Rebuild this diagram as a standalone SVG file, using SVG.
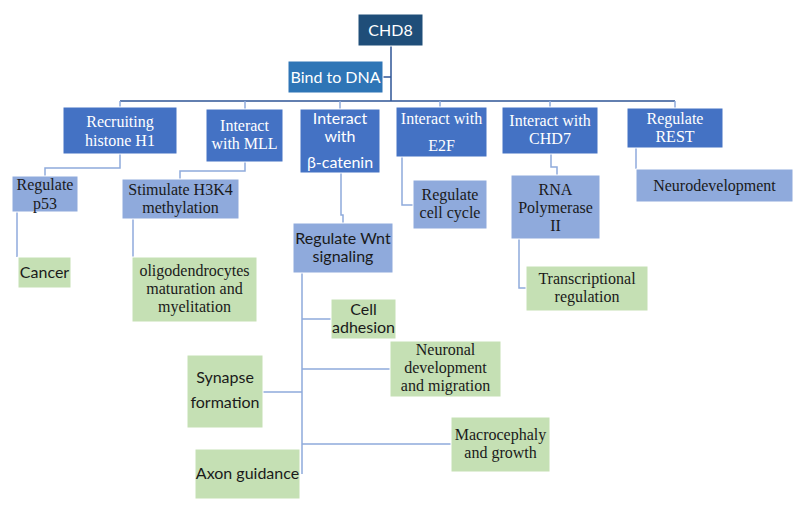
<svg xmlns="http://www.w3.org/2000/svg" width="800" height="507" viewBox="0 0 800 507">
<style>
rect{stroke:#ffffff;stroke-width:1}
.root{fill:#1f4e79}
.dna{fill:#2e75b6}
.l2{fill:#4472c4}
.lb{fill:#8faadc}
.gr{fill:#c5e0b4}
text{text-anchor:middle;font-size:16px}
.t{font-size:16px}
.w{fill:#ffffff}
.k{fill:#1a1a1a}
.c{fill:none;stroke:#8faadc;stroke-width:1.5}
.cd{fill:none;stroke:#2f5597;stroke-width:1.5}
</style>
<rect width="800" height="507" fill="#ffffff" stroke="none"/>
<g id="connectors">
<path class="cd" d="M391 46V101M120 101H675M383 77H391"/>
<path class="c" d="M120 101V107M245 101V109M340 101V109M440 101V107M550 101V107M675 101V108"/>
<path class="c" d="M120 154V168H45V176"/>
<path class="c" d="M245 162V171H180V179"/>
<path class="c" d="M17 212V257"/>
<path class="c" d="M133 219V257"/>
<path class="c" d="M341 173V215H343V223"/>
<path class="c" d="M302 273V474M302 319H331M302 369H390M263 392H302M302 444H451"/>
<path class="c" d="M402 157V205H413"/>
<path class="c" d="M551 154V167H557V175"/>
<path class="c" d="M519 239V288H526"/>
<path class="c" d="M636 148V169"/>
</g>
<g id="sans-nodes" font-family="Lato, 'Open Sans', 'Liberation Sans', sans-serif">
<g id="chd8"><rect class="root" x="358" y="14" width="65" height="32"/><text class="w" x="390.5" y="36">CHD8</text></g>
<g id="bind-dna"><rect class="dna" x="288" y="61" width="95" height="32"/><text class="w" x="335.5" y="83">Bind to DNA</text></g>
<g id="interact-bcatenin"><rect class="l2" x="300" y="109" width="80" height="64"/><text class="w" x="340" y="124">Interact</text><text class="w" x="340" y="142">with</text><text class="w" x="340" y="168">β-catenin</text></g>
<g id="regulate-wnt"><rect class="lb" x="293" y="223" width="100" height="50"/><text class="k" x="343" y="244">Regulate Wnt</text><text class="k" x="343" y="262">signaling</text></g>
<g id="cancer"><rect class="gr" x="18" y="257" width="53" height="31"/><text class="k" x="44.5" y="278">Cancer</text></g>
<g id="cell-adhesion"><rect class="gr" x="331" y="299" width="65" height="40"/><text class="k" x="363.5" y="315">Cell</text><text class="k" x="363.5" y="333">adhesion</text></g>
<g id="synapse"><rect class="gr" x="187" y="355" width="76" height="73"/><text class="k" x="225" y="383">Synapse</text><text class="k" x="225" y="408">formation</text></g>
<g id="axon"><rect class="gr" x="195" y="449" width="105" height="50"/><text class="k" x="247.5" y="479">Axon guidance</text></g>
</g>
<g id="serif-nodes" font-family="'Liberation Serif', 'Times New Roman', Tinos, serif">
<g id="recruiting-h1"><rect class="l2" x="63" y="107" width="114" height="47"/><text class="t w" x="120" y="127">Recruiting</text><text class="t w" x="120" y="146">histone H1</text></g>
<g id="interact-mll"><rect class="l2" x="206" y="109" width="77" height="53"/><text class="t w" x="244.5" y="131">Interact</text><text class="t w" x="244.5" y="149">with MLL</text></g>
<g id="interact-e2f"><rect class="l2" x="396" y="107" width="91" height="50"/><text class="t w" x="441.5" y="124">Interact with</text><text class="t w" x="441.5" y="151">E2F</text></g>
<g id="interact-chd7"><rect class="l2" x="502" y="107" width="96" height="47"/><text class="t w" x="550" y="126">Interact with</text><text class="t w" x="550" y="144">CHD7</text></g>
<g id="regulate-rest"><rect class="l2" x="627" y="108" width="96" height="40"/><text class="t w" x="675" y="124">Regulate</text><text class="t w" x="675" y="142">REST</text></g>
<g id="regulate-p53"><rect class="lb" x="12" y="176" width="66" height="36"/><text class="t k" x="45" y="190">Regulate</text><text class="t k" x="45" y="209">p53</text></g>
<g id="stimulate-h3k4"><rect class="lb" x="122" y="179" width="117" height="40"/><text class="t k" x="180.5" y="195">Stimulate H3K4</text><text class="t k" x="180.5" y="213">methylation</text></g>
<g id="regulate-cell-cycle"><rect class="lb" x="413" y="180" width="74" height="49"/><text class="t k" x="450" y="200">Regulate</text><text class="t k" x="450" y="218">cell cycle</text></g>
<g id="rna-pol2"><rect class="lb" x="511" y="175" width="89" height="64"/><text class="t k" x="555.5" y="195">RNA</text><text class="t k" x="555.5" y="213">Polymerase</text><text class="t k" x="555.5" y="231">II</text></g>
<g id="neurodevelopment"><rect class="lb" x="636" y="169" width="157" height="33"/><text class="t k" x="714.5" y="191">Neurodevelopment</text></g>
<g id="oligodendrocytes"><rect class="gr" x="132" y="257" width="125" height="65"/><text class="t k" x="194.5" y="276">oligodendrocytes</text><text class="t k" x="194.5" y="294">maturation and</text><text class="t k" x="194.5" y="312">myelitation</text></g>
<g id="transcriptional"><rect class="gr" x="526" y="266" width="122" height="45"/><text class="t k" x="587" y="284">Transcriptional</text><text class="t k" x="587" y="302">regulation</text></g>
<g id="neuronal-dev"><rect class="gr" x="390" y="341" width="111" height="56"/><text class="t k" x="445.5" y="355">Neuronal</text><text class="t k" x="445.5" y="373">development</text><text class="t k" x="445.5" y="391">and migration</text></g>
<g id="macrocephaly"><rect class="gr" x="451" y="417" width="99" height="55"/><text class="t k" x="500.5" y="440">Macrocephaly</text><text class="t k" x="500.5" y="458">and growth</text></g>
</g>
</svg>
